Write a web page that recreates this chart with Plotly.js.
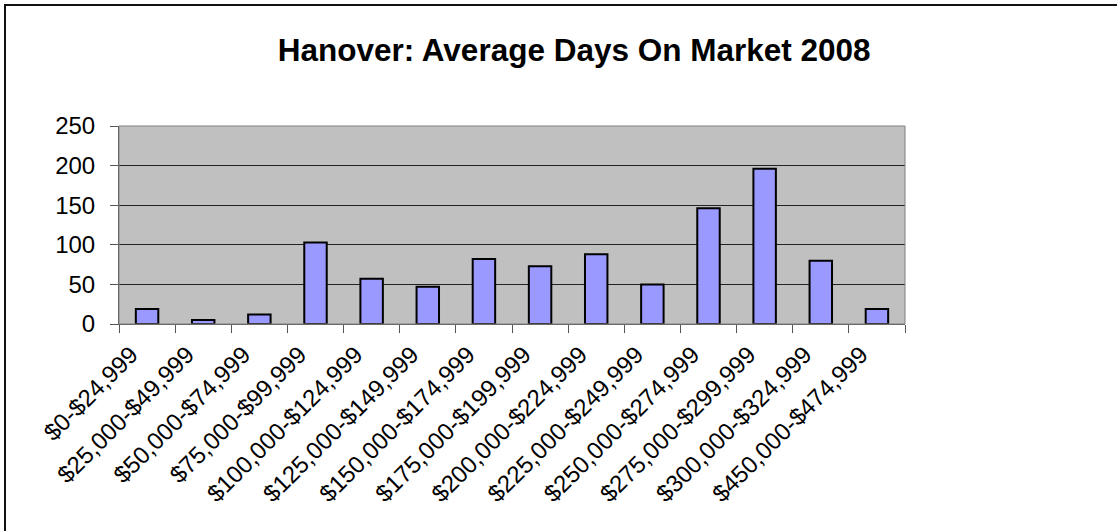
<!DOCTYPE html>
<html>
<head>
<meta charset="utf-8">
<script src="https://cdn.plot.ly/plotly-3.0.1.min.js"></script>
<style>
  html, body { margin: 0; padding: 0; background: #fff; }
  #wrap { position: relative; width: 1117px; height: 531px; overflow: hidden; }
  #chart { width: 1117px; height: 531px; }
  #frame { position: absolute; left: 4px; top: 4px; width: 1200px; height: 600px;
           border-left: 2px solid #111; border-top: 2px solid #111; pointer-events: none; }
</style>
</head>
<body>
<div id="wrap">
  <div id="chart"></div>
  <div id="frame"></div>
</div>
<script>
const categories = [
  "$0-$24,999", "$25,000-$49,999", "$50,000-$74,999", "$75,000-$99,999",
  "$100,000-$124,999", "$125,000-$149,999", "$150,000-$174,999", "$175,000-$199,999",
  "$200,000-$224,999", "$225,000-$249,999", "$250,000-$274,999", "$275,000-$299,999",
  "$300,000-$324,999", "$450,000-$474,999"
];
const avgDays = [19, 5, 12, 103, 57, 47, 82, 73, 88, 50, 146, 196, 80, 19];
const yTicks = [0, 50, 100, 150, 200, 250];
const titleText = "Hanover: Average Days On Market 2008";

const fontFam = "'Liberation Sans', Arial, Helvetica, sans-serif";

const trace = {
  type: "bar",
  x: categories,
  y: avgDays,
  marker: { color: "#9999FF", line: { color: "#000000", width: 2 } },
  hoverinfo: "x+y"
};

const layout = {
  width: 1117,
  height: 531,
  margin: { l: 119, r: 212, t: 126, b: 207, pad: 0 },
  paper_bgcolor: "#FFFFFF",
  plot_bgcolor: "#C0C0C0",
  bargap: 0.6,
  showlegend: false,
  font: { family: fontFam, color: "#000000" },
  title: {
    text: "<b>" + titleText + "</b>",
    font: { family: fontFam, size: 31.5, color: "#000000" },
    xref: "container", yref: "container",
    x: 0.514, y: 0.906, xanchor: "center", yanchor: "middle"
  },
  xaxis: {
    type: "category",
    tickangle: -45,
    tickson: "boundaries",
    ticks: "outside",
    ticklen: 8,
    tickcolor: "#555555",
    tickwidth: 1,
    showline: true,
    linecolor: "#555555",
    linewidth: 1,
    mirror: false,
    showgrid: false,
    ticklabelstandoff: 6,
    ticklabelshift: -16,
    tickfont: { family: fontFam, size: 24, color: "#000000" },
    automargin: false
  },
  yaxis: {
    range: [0, 250],
    tickvals: yTicks,
    ticks: "outside",
    ticklen: 8,
    tickcolor: "#555555",
    tickwidth: 1,
    showline: true,
    linecolor: "#555555",
    linewidth: 1,
    showgrid: true,
    gridcolor: "#222222",
    gridwidth: 1,
    zeroline: false,
    ticklabelstandoff: 10,
    tickfont: { family: fontFam, size: 24, color: "#000000" },
    automargin: false
  },
  shapes: [
    { type: "rect", xref: "paper", yref: "paper", x0: 0, x1: 1, y0: 0, y1: 1,
      line: { color: "#808080", width: 1 }, fillcolor: "rgba(0,0,0,0)", layer: "above" }
  ]
};

Plotly.newPlot("chart", [trace], layout, { displayModeBar: false, staticPlot: true });
</script>
</body>
</html>
